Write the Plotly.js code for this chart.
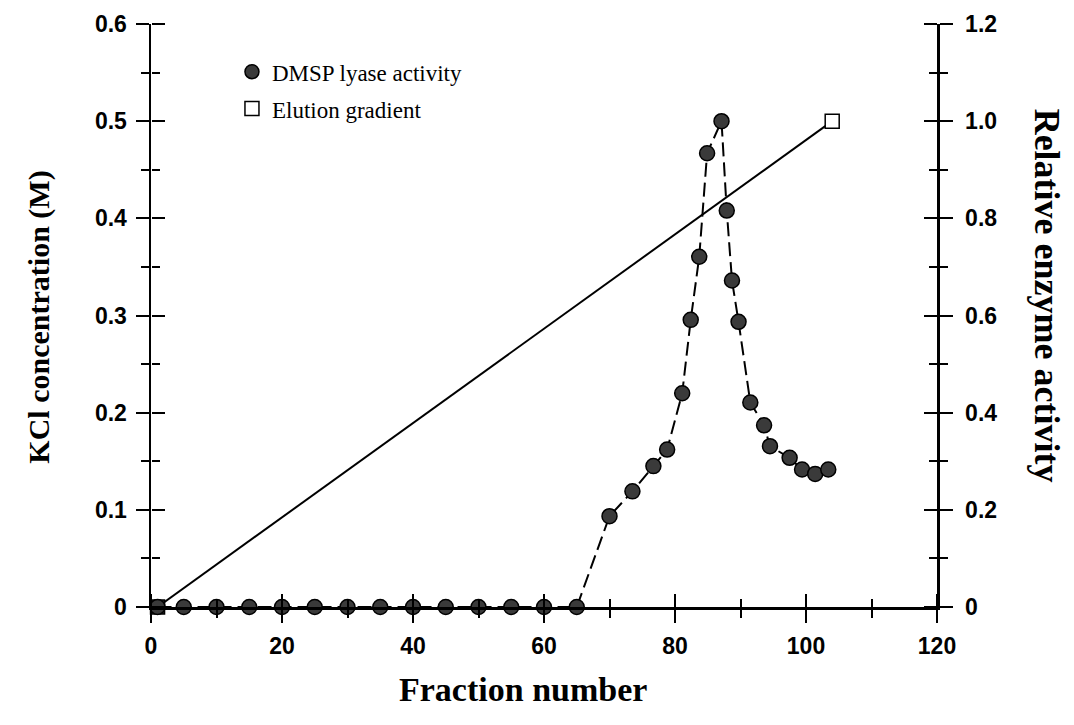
<!DOCTYPE html>
<html>
<head>
<meta charset="utf-8">
<script src="https://cdn.plot.ly/plotly-3.0.1.min.js"></script>
<style>html,body{margin:0;padding:0;background:#fff;}#chart{width:1074px;height:725px;}</style>
</head>
<body>
<div id="chart"></div>
<script>
// Fraction numbers and relative DMSP lyase activity (right axis)
var activityFraction = [1,5,10,15,20,25,30,35,40,45,50,55,60,65,70,73.5,76.7,78.8,81.1,82.4,83.7,84.9,87.1,87.9,88.7,89.7,91.5,93.6,94.5,97.5,99.4,101.4,103.4];
var activityValue = [0,0,0,0,0,0,0,0,0,0,0,0,0,0,0.187,0.238,0.290,0.324,0.440,0.591,0.721,0.934,1.0,0.816,0.672,0.587,0.421,0.374,0.331,0.307,0.283,0.274,0.283];
// Elution gradient (left axis, KCl M)
var gradientFraction = [1, 104];
var gradientKCl = [0, 0.5];
// Tick labels
var xTickVals = [0,20,40,60,80,100,120];
var xTickText = ['0','20','40','60','80','100','120'];
var leftTickVals = [0,0.1,0.2,0.3,0.4,0.5,0.6];
var leftTickText = ['0','0.1','0.2','0.3','0.4','0.5','0.6'];
var rightTickVals = [0,0.2,0.4,0.6,0.8,1.0,1.2];
var rightTickText = ['0','0.2','0.4','0.6','0.8','1.0','1.2'];
var seriesNames = ['DMSP lyase activity','Elution gradient'];

var tickFont = {family:'Liberation Sans, Arial, sans-serif', size:23, color:'#000', weight:'bold'};
var serif = 'Liberation Serif, Times New Roman, serif';

function minorTicks(d){ return {dtick:d, tick0:0, ticks:'outside', ticklen:8, tickwidth:2, tickcolor:'#000', showgrid:false}; }
var hiddenMarker = {opacity:0, size:1};

var traces = [
  {x:activityFraction, y:activityValue, xaxis:'x', yaxis:'y2', mode:'lines+markers', showlegend:false,
   cliponaxis:false, line:{color:'#000', width:2, dash:'14px,6px'},
   marker:{symbol:'circle', size:15, color:'#3a3a3a', line:{color:'#000', width:1.5}}},
  {x:gradientFraction, y:gradientKCl, xaxis:'x', yaxis:'y', mode:'lines+markers', showlegend:false,
   cliponaxis:false, line:{color:'#000', width:2},
   marker:{symbol:'square', size:14, color:['#3a3a3a','#fff'], line:{color:'#000', width:1.5}}},
  // legend entries
  {x:[null], y:[null], xaxis:'x', yaxis:'y', mode:'markers', name:seriesNames[0], legendgroup:'a',
   marker:{symbol:'circle', size:14, color:'#3a3a3a', line:{color:'#000', width:1.5}}},
  {x:[null], y:[null], xaxis:'x', yaxis:'y', mode:'markers', name:seriesNames[1], legendgroup:'b',
   marker:{symbol:'square', size:14, color:'#fff', line:{color:'#000', width:1.5}}},
  // invisible helpers so the inward tick-mark axes get drawn
  {x:gradientFraction, y:gradientKCl, xaxis:'x3', yaxis:'y', mode:'markers', marker:hiddenMarker, showlegend:false, hoverinfo:'skip'},
  {x:gradientFraction, y:gradientKCl, xaxis:'x', yaxis:'y3', mode:'markers', marker:hiddenMarker, showlegend:false, hoverinfo:'skip'},
  {x:activityFraction, y:activityValue, xaxis:'x', yaxis:'y4', mode:'markers', marker:hiddenMarker, showlegend:false, hoverinfo:'skip'}
];

var layout = {
  width:1074, height:725,
  margin:{l:151, r:137, t:24, b:118},
  paper_bgcolor:'#fff', plot_bgcolor:'#fff',
  showlegend:true,
  legend:{x:0.103, y:0.955, xanchor:'left', yanchor:'top', bgcolor:'rgba(0,0,0,0)',
          font:{family:serif, size:23, color:'#000'}, tracegroupgap:4, traceorder:'grouped'},
  xaxis:{range:[0,120], tickvals:xTickVals, ticktext:xTickText, ticks:'outside', ticklen:13, tickwidth:2,
         tickcolor:'#000', showline:true, linecolor:'#000', linewidth:2.5, showgrid:false, zeroline:false,
         tickfont:tickFont, ticklabelstandoff:4, anchor:'y', minor:minorTicks(10)},
  yaxis:{range:[0,0.6], tickvals:leftTickVals, ticktext:leftTickText, ticks:'outside', ticklen:13, tickwidth:2,
         tickcolor:'#000', showline:true, linecolor:'#000', linewidth:2.5, showgrid:false, zeroline:false,
         tickfont:tickFont, ticklabelstandoff:4, anchor:'x', minor:minorTicks(0.05)},
  yaxis2:{range:[0,1.2], overlaying:'y', side:'right', anchor:'x', tickvals:rightTickVals, ticktext:rightTickText,
         ticks:'outside', ticklen:13, tickwidth:2, tickcolor:'#000', showline:true, linecolor:'#000', linewidth:2.5,
         showgrid:false, zeroline:false, tickfont:tickFont, ticklabelstandoff:8, minor:minorTicks(0.1)},
  // inward halves of the crossing tick marks: axes placed on the frame but facing the other way
  xaxis3:{range:[0,120], overlaying:'x', anchor:'free', position:0, side:'top', tickvals:xTickVals, ticks:'outside', ticklen:13, tickwidth:2,
         tickcolor:'#000', showticklabels:false, showline:false, showgrid:false, zeroline:false, minor:minorTicks(10)},
  yaxis3:{range:[0,0.6], overlaying:'y', anchor:'free', position:0, side:'right', tickvals:leftTickVals, ticks:'outside', ticklen:13, tickwidth:2,
         tickcolor:'#000', showticklabels:false, showline:false, showgrid:false, zeroline:false, minor:minorTicks(0.05)},
  yaxis4:{range:[0,1.2], overlaying:'y', anchor:'free', position:1, side:'left', tickvals:rightTickVals, ticks:'outside', ticklen:13, tickwidth:2,
         tickcolor:'#000', showticklabels:false, showline:false, showgrid:false, zeroline:false, minor:minorTicks(0.1)},
  annotations:[
    {text:'<b>KCl concentration (M)</b>', xref:'paper', yref:'paper', x:-0.142, y:0.497, textangle:-90,
     showarrow:false, xanchor:'center', yanchor:'middle', font:{family:serif, size:30, color:'#000'}},
    {text:'<b>Relative enzyme activity</b>', xref:'paper', yref:'paper', x:1.14, y:0.534, textangle:90,
     showarrow:false, xanchor:'center', yanchor:'middle', font:{family:serif, size:36, color:'#000'}},
    {text:'<b>Fraction number</b>', xref:'paper', yref:'paper', x:0.473, y:-0.141,
     showarrow:false, xanchor:'center', yanchor:'middle', font:{family:serif, size:34, color:'#000'}}
  ]
};

Plotly.newPlot('chart', traces, layout, {displayModeBar:false, staticPlot:true});
</script>
</body>
</html>
